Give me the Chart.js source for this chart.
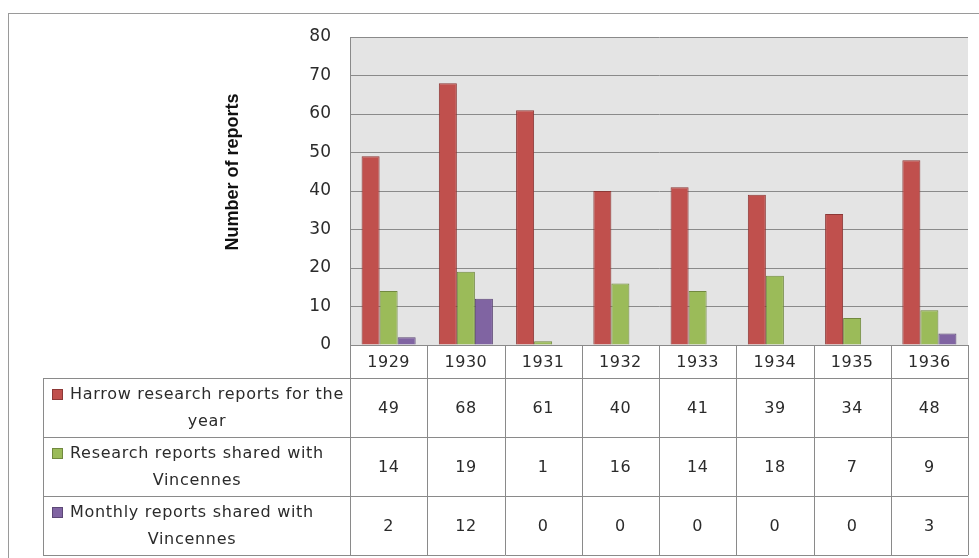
<!DOCTYPE html>
<html>
<head>
<meta charset="utf-8">
<script src="https://cdn.jsdelivr.net/npm/chart.js@4"></script>
<style>
  html, body { margin: 0; padding: 0; background: #fff; }
  #wrap { width: 979px; height: 558px; }
</style>
</head>
<body>
<div id="wrap"><canvas id="reportsChart" width="979" height="558"></canvas></div>
<script>
// chart data
const years = ['1929', '1930', '1931', '1932', '1933', '1934', '1935', '1936'];
const harrowReports = [49, 68, 61, 40, 41, 39, 34, 48];
const researchShared = [14, 19, 1, 16, 14, 18, 7, 9];
const monthlyShared = [2, 12, 0, 0, 0, 0, 0, 3];
const seriesNames = [
    ['Harrow research reports for the', 'year'],
    ['Research reports shared with', 'Vincennes'],
    ['Monthly reports shared with', 'Vincennes'],
];
const yTicks = [0, 10, 20, 30, 40, 50, 60, 70, 80];
const yTitle = 'Number of reports';

const seriesColors = ['#C0504D', '#9BBB59', '#8064A2'];
const seriesBorders = ['#8C3836', '#71893F', '#5C4776'];
const FONT = '"DejaVu Sans", Verdana, sans-serif';

// grey plot background, outer frame and the axis title
const backgroundPlugin = {
    id: 'plotBackground',
    beforeDraw(chart) {
        const { ctx, chartArea } = chart;
        ctx.save();
        ctx.fillStyle = '#fff';
        ctx.fillRect(0, 0, chart.width, chart.height);
        ctx.strokeStyle = '#9a9a9a';
        ctx.lineWidth = 1;
        ctx.strokeRect(8.5, 13.5, 1000, 600);
        ctx.fillStyle = '#E4E4E4';
        ctx.fillRect(chartArea.left, chartArea.top, chartArea.right - chartArea.left, chartArea.bottom - chartArea.top);

        // y axis title (Excel puts it a bit above the middle)
        ctx.translate(233, 172);
        ctx.rotate(-Math.PI / 2);
        ctx.fillStyle = '#111';
        ctx.font = 'bold 18px "Liberation Sans", Arial, sans-serif';
        ctx.textAlign = 'center';
        ctx.textBaseline = 'middle';
        ctx.fillText(yTitle, 0, 0);
        ctx.restore();
    }
};

// data table below the plot, like the Excel chart
const dataTablePlugin = {
    id: 'dataTable',
    afterDraw(chart) {
        const { ctx, chartArea } = chart;
        const xScale = chart.scales.x;
        const colW = (chartArea.right - chartArea.left) / years.length;
        const tableLeft = 43;
        const headTop = chartArea.bottom;
        const headBottom = headTop + 33;
        const rowH = 59;
        const values = [harrowReports, researchShared, monthlyShared];

        ctx.save();
        ctx.strokeStyle = '#8a8a8a';
        ctx.lineWidth = 1;

        ctx.beginPath();
        for (let i = 0; i <= years.length; i++) {
            const x = Math.round(chartArea.left + i * colW) + 0.5;
            ctx.moveTo(x, headTop);
            ctx.lineTo(x, headBottom + rowH * 3);
        }
        ctx.moveTo(tableLeft + 0.5, headBottom);
        ctx.lineTo(tableLeft + 0.5, headBottom + rowH * 3);
        ctx.moveTo(chartArea.left, headTop + 0.5);
        ctx.lineTo(chartArea.right, headTop + 0.5);
        for (let r = 0; r <= 3; r++) {
            const y = Math.round(headBottom + r * rowH) + 0.5;
            ctx.moveTo(tableLeft, y);
            ctx.lineTo(chartArea.right, y);
        }
        ctx.stroke();

        ctx.fillStyle = '#2b2b2b';
        ctx.font = '16px ' + FONT;
        ctx.textAlign = 'center';
        ctx.textBaseline = 'middle';
        ctx.letterSpacing = '0.5px';

        // years
        years.forEach((yr, i) => {
            ctx.fillText(yr, xScale.getPixelForValue(i), (headTop + headBottom) / 2 + 1);
        });

        // series rows
        values.forEach((arr, r) => {
            const mid = headBottom + r * rowH + rowH / 2;
            const lines = seriesNames[r];
            const keyX = 52, keySize = 11;
            const textX = 70;
            ctx.letterSpacing = '0.7px';
            const w1 = ctx.measureText(lines[0]).width;
            ctx.fillStyle = seriesColors[r];
            ctx.fillRect(keyX, mid - 13 - keySize / 2, keySize, keySize);
            ctx.strokeStyle = seriesBorders[r];
            ctx.strokeRect(keyX + 0.5, mid - 13 - keySize / 2 + 0.5, keySize - 1, keySize - 1);
            ctx.fillStyle = '#2b2b2b';
            ctx.textAlign = 'left';
            ctx.fillText(lines[0], textX, mid - 12.5);
            ctx.textAlign = 'center';
            ctx.fillText(lines[1], textX + w1 / 2, mid + 14);

            ctx.letterSpacing = '0.5px';
            arr.forEach((v, i) => {
                ctx.fillText(String(v), xScale.getPixelForValue(i), mid + 1);
            });
        });
        ctx.restore();
    }
};

function makeDataset(idx, data) {
    return {
        label: seriesNames[idx].join(' '),
        data: data,
        backgroundColor: seriesColors[idx],
        borderColor: seriesBorders[idx],
        borderWidth: ctx => (ctx.raw === 0 ? 0 : 1),
        borderSkipped: 'bottom',
        categoryPercentage: 0.7,
        barPercentage: 1.0,
    };
}

new Chart(document.getElementById('reportsChart').getContext('2d'), {
    type: 'bar',
    data: {
        labels: years,
        datasets: [
            makeDataset(0, harrowReports),
            makeDataset(1, researchShared),
            makeDataset(2, monthlyShared),
        ],
    },
    options: {
        responsive: false,
        animation: false,
        layout: {
            padding: { left: 218, top: 37, right: 11, bottom: 213 },
        },
        plugins: {
            legend: { display: false },
            tooltip: { enabled: false },
        },
        scales: {
            x: {
                display: false,
            },
            y: {
                min: 0,
                max: 80,
                afterFit: scale => { scale.width = 132; },
                afterBuildTicks: scale => { scale.ticks = yTicks.map(v => ({ value: v })); },
                ticks: {
                    padding: 19,
                    color: '#2b2b2b',
                    font: { family: FONT, size: 17 },
                },
                grid: {
                    color: '#8a8a8a',
                    drawTicks: false,
                },
                border: { display: true, color: '#8a8a8a' },
            },
        },
    },
    plugins: [backgroundPlugin, dataTablePlugin],
});
</script>
</body>
</html>
